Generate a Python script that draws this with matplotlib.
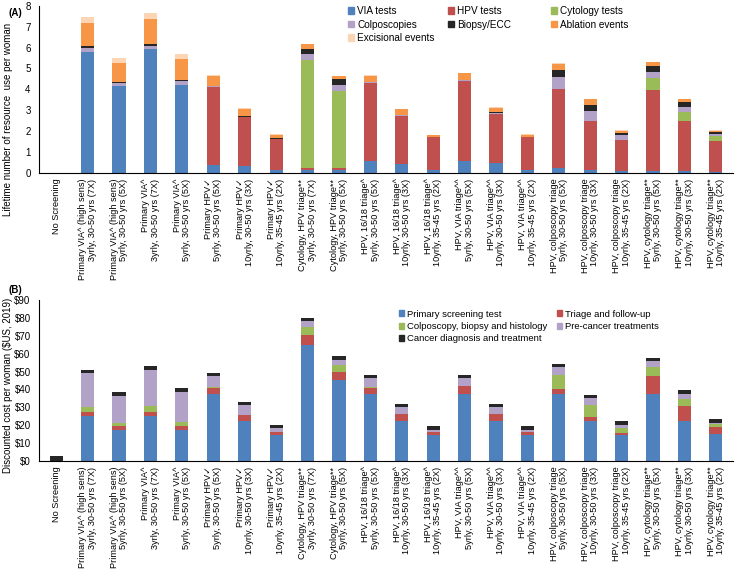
import numpy as np
import matplotlib
matplotlib.use("Agg")
import matplotlib.pyplot as plt
from matplotlib.patches import Patch

plt.rcParams['font.family'] = ['Liberation Sans', 'DejaVu Sans']

labels = [
    "No Screening",
    "Primary VIA^ (high sens)\n3yrly, 30-50 yrs (7X)",
    "Primary VIA^ (high sens)\n5yrly, 30-50 yrs (5X)",
    "Primary VIA^\n3yrly, 30-50 yrs (7X)",
    "Primary VIA^\n5yrly, 30-50 yrs (5X)",
    "Primary HPV\u2713\n5yrly, 30-50 yrs (5X)",
    "Primary HPV\u2713\n10yrly, 30-50 yrs (3X)",
    "Primary HPV\u2713\n10yrly, 35-45 yrs (2X)",
    "Cytology, HPV triage**\n3yrly, 30-50 yrs (7X)",
    "Cytology, HPV triage**\n5yrly, 30-50 yrs (5X)",
    "HPV, 16/18 triage^\n5yrly, 30-50 yrs (5X)",
    "HPV, 16/18 triage^\n10yrly, 30-50 yrs (3X)",
    "HPV, 16/18 triage^\n10yrly, 35-45 yrs (2X)",
    "HPV, VIA triage^^\n5yrly, 30-50 yrs (5X)",
    "HPV, VIA triage^^\n10yrly, 30-50 yrs (3X)",
    "HPV, VIA triage^^\n10yrly, 35-45 yrs (2X)",
    "HPV, colposcopy triage\n5yrly, 30-50 yrs (5X)",
    "HPV, colposcopy triage\n10yrly, 30-50 yrs (3X)",
    "HPV, colposcopy triage\n10yrly, 35-45 yrs (2X)",
    "HPV, cytology triage**\n5yrly, 30-50 yrs (5X)",
    "HPV, cytology triage**\n10yrly, 30-50 yrs (3X)",
    "HPV, cytology triage**\n10yrly, 35-45 yrs (2X)",
]

# (A) lifetime resource use per woman
via_tests    = [0, 5.80, 4.18, 5.91, 4.23, 0.40, 0.32, 0.13, 0.13, 0.13, 0.56, 0.41, 0.16, 0.59, 0.46, 0.16, 0.25, 0.16, 0.08, 0.11, 0.11, 0.03]
hpv_tests    = [0, 0, 0, 0, 0, 3.70, 2.35, 1.49, 0.11, 0.11, 3.76, 2.34, 1.56, 3.83, 2.37, 1.54, 3.79, 2.35, 1.48, 3.88, 2.39, 1.51]
cyto_tests   = [0, 0, 0, 0, 0, 0, 0, 0, 5.17, 3.66, 0, 0, 0, 0, 0, 0, 0, 0, 0, 0.53, 0.44, 0.21]
colposcopies = [0, 0.19, 0.14, 0.18, 0.16, 0.07, 0.02, 0.02, 0.28, 0.31, 0.05, 0.03, 0.02, 0.04, 0.02, 0.02, 0.54, 0.46, 0.24, 0.33, 0.24, 0.13]
biopsy       = [0, 0.08, 0.05, 0.09, 0.06, 0.00, 0.06, 0.05, 0.26, 0.27, 0.00, 0.00, 0.00, 0.00, 0.06, 0.00, 0.35, 0.29, 0.09, 0.29, 0.22, 0.09]
ablation     = [0, 1.12, 0.91, 1.18, 1.00, 0.47, 0.32, 0.13, 0.20, 0.16, 0.29, 0.27, 0.09, 0.31, 0.21, 0.10, 0.30, 0.27, 0.14, 0.15, 0.14, 0.06]
excisional   = [0, 0.28, 0.24, 0.30, 0.26, 0.03, 0.02, 0.03, 0.02, 0.01, 0.02, 0.02, 0.01, 0.03, 0.02, 0.04, 0.02, 0.02, 0.02, 0.03, 0.02, 0.02]

# (B) discounted cost per woman
primary_cost   = [0, 25.2, 17.2, 25.2, 17.2, 37.3, 22.4, 14.6, 64.7, 45.1, 37.3, 22.2, 14.4, 37.3, 22.2, 14.4, 37.3, 22.2, 14.6, 37.3, 22.2, 14.9]
triage_cost    = [0, 2.2, 2.4, 2.2, 2.4, 3.4, 3.2, 1.4, 5.6, 4.5, 3.7, 3.9, 1.8, 4.5, 3.9, 1.8, 2.8, 2.2, 1.1, 10.3, 8.4, 3.9]
colpo_cost     = [0, 2.8, 1.7, 3.2, 2.0, 0.7, 0.3, 0.2, 4.5, 3.9, 0.6, 0.3, 0.3, 0.2, 0.3, 0.2, 8.2, 6.8, 2.8, 4.8, 4.1, 1.7]
precancer_cost = [0, 18.9, 15.1, 20.5, 16.8, 6.0, 5.3, 2.1, 3.4, 3.0, 4.7, 3.8, 0.9, 4.3, 3.8, 1.1, 4.1, 3.9, 1.6, 3.4, 2.6, 0.9]
cancer_cost    = [2.8, 1.6, 2.0, 1.9, 2.5, 1.9, 1.8, 1.8, 1.8, 2.4, 1.8, 1.9, 2.4, 1.8, 1.7, 2.3, 1.9, 1.8, 2.3, 1.8, 2.4, 2.3]

BLUE, RED, GREEN, PURPLE, BLACK = "#4F81BD", "#C0504D", "#9BBB59", "#B3A2C7", "#262626"
ORANGE, PEACH = "#F79646", "#FCD5B5"

fig = plt.figure(figsize=(7.44, 5.71), dpi=100)
x = np.arange(len(labels))
w = 0.42


def stack(ax, series):
    bottom = np.zeros(len(labels))
    for vals, color, name in series:
        vals = np.array(vals, dtype=float)
        ax.bar(x, vals, w, bottom=bottom, color=color, label=name, linewidth=0)
        bottom += vals


def style(ax):
    for s in ("top", "right"):
        ax.spines[s].set_visible(False)
    ax.spines["left"].set_linewidth(0.8)
    ax.spines["bottom"].set_linewidth(0.8)
    ax.tick_params(axis="both", length=0, labelsize=7, pad=6)
    ax.set_xlim(-0.55, 21.55)
    ax.set_xticks(x)
    ax.set_xticklabels(labels, rotation=90, ha="center", va="top",
                       multialignment="right", fontsize=6.6, linespacing=1.05)
    ax.tick_params(axis="x", pad=4)


def column_legends(series, columns, xs, ytop, size):
    # Excel-like legend: fixed column positions, row-major order
    for col, xpos in zip(columns, xs):
        handles = [Patch(color=series[i][1], label=series[i][2]) for i in col]
        fig.legend(handles=handles, frameon=False, fontsize=size,
                   loc="upper left", bbox_to_anchor=(xpos, ytop), borderpad=0,
                   handlelength=0.6, handleheight=0.6,
                   handletextpad=0.3, labelspacing=0.35)


# panel A
axA = fig.add_axes([0.0524, 0.697, 0.933, 0.293])
seriesA = [
    (via_tests, BLUE, "VIA tests"),
    (hpv_tests, RED, "HPV tests"),
    (cyto_tests, GREEN, "Cytology tests"),
    (colposcopies, PURPLE, "Colposcopies"),
    (biopsy, BLACK, "Biopsy/ECC"),
    (ablation, ORANGE, "Ablation events"),
    (excisional, PEACH, "Excisional events"),
]
stack(axA, seriesA)
style(axA)
axA.set_ylim(0, 8)
axA.set_yticks(range(0, 9))
axA.set_ylabel("Lifetime number of resource  use per woman", fontsize=7)
axA.yaxis.set_label_coords(-0.038, 0.32)
fig.text(0.011, 0.977, "(A)", fontsize=7, fontweight="bold", va="center")

column_legends(seriesA, [[0, 3, 6], [1, 4], [2, 5]],
               [343 / 744, 443 / 744, 546 / 744], 1 - 1 / 571, 7.2)

# panel B
axB = fig.add_axes([0.0524, 0.1926, 0.933, 0.282])
seriesB = [
    (primary_cost, BLUE, "Primary screening test"),
    (triage_cost, RED, "Triage and follow-up"),
    (colpo_cost, GREEN, "Colposcopy, biopsy and histology"),
    (precancer_cost, PURPLE, "Pre-cancer treatments"),
    (cancer_cost, BLACK, "Cancer diagnosis and treatment"),
]
stack(axB, seriesB)
style(axB)
axB.set_ylim(0, 90)
axB.set_yticks(range(0, 91, 10))
axB.set_yticklabels([f"${v}" for v in range(0, 91, 10)])
axB.set_ylabel("Discounted cost per woman ($US, 2019)", fontsize=7)
axB.yaxis.set_label_coords(-0.038, 0.47)
fig.text(0.011, 0.492, "(B)", fontsize=7, fontweight="bold", va="center")

column_legends(seriesB, [[0, 2, 4], [1, 3]],
               [394 / 744, 552 / 744], 1 - 305 / 571, 6.8)

fig.savefig("out.png", dpi=100)
